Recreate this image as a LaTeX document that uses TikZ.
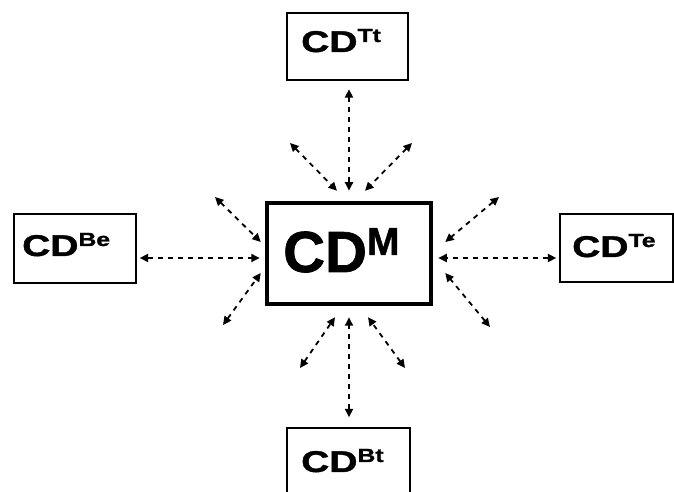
\documentclass[tikz,border=0pt]{standalone}
\usepackage{fontspec}
\usepackage{graphicx}
\setmainfont{Liberation Sans}
\newfontfamily\heavy{Liberation Sans}[BoldFeatures={FakeBold=1.2}]
\usetikzlibrary{arrows.meta}

% small box caption: wide heavy "CD" with a raised suffix
\newcommand{\cdsmall}[1]{\scalebox{1.3}[1]{\heavy\fontsize{30}{30}\selectfont\bfseries CD\raisebox{10pt}{\fontsize{19}{19}\selectfont #1}}}

\tikzset{
  smallbox/.style={draw=black, line width=1.4pt, inner sep=0pt, fill=white},
  bigbox/.style={draw=black, line width=4.5pt, inner sep=0pt,
                 minimum width=164pt, minimum height=101pt},
  caption/.style={anchor=base west, inner sep=0pt, text=black},
  conn/.style={line width=1.8pt, dash pattern=on 5pt off 5pt,
               {Triangle[length=8.5pt,width=8pt]}-{Triangle[length=8.5pt,width=8pt]}},
}

\begin{document}
\begin{tikzpicture}[x=1pt, y=1pt]
  \useasboundingbox (0,0) rectangle (674,492);
  \clip (0,0) rectangle (674,492);

  % central box
  \node[bigbox] (M) at (349,238.5) {};
  \node[caption] (Mlbl) at (283,220)
    {\heavy\fontsize{58}{58}\selectfont\bfseries CD\raisebox{17pt}{\fontsize{39}{39}\selectfont M}};

  % surrounding boxes
  \node[smallbox, minimum width=121pt, minimum height=67pt] (Tt) at (347.5,445.5) {};
  \node[smallbox, minimum width=122pt, minimum height=69pt] (Be) at (75,243.5) {};
  \node[smallbox, minimum width=113pt, minimum height=68pt] (Te) at (616.5,244) {};
  \node[smallbox, minimum width=123pt, minimum height=69pt] (Bt) at (348.5,29.5) {};

  \node[caption] (Ttlbl) at (301,440) {\cdsmall{Tt}};
  \node[caption] (Belbl) at (22,236)  {\cdsmall{Be}};
  \node[caption] (Telbl) at (572,235) {\cdsmall{Te}};
  \node[caption] (Btlbl) at (301,20)  {\cdsmall{Bt}};

  % free ends of the diagonal links
  \coordinate (tlo) at (290,349);
  \coordinate (tro) at (412,349);
  \coordinate (luo) at (215,295);
  \coordinate (llo) at (223,167);
  \coordinate (ruo) at (499,295);
  \coordinate (rlo) at (490,165);
  \coordinate (blo) at (300,124);
  \coordinate (bro) at (405,124);

  % links to the four boxes
  \draw[conn] ([shift={(1.5,-8.5)}]Tt.south) -- ([yshift=10]M.north);
  \draw[conn] ([shift={(3,-9.5)}]Be.east) -- ([shift={(-5,-4.5)}]M.west);
  \draw[conn] ([shift={(-3,-10)}]Te.west) -- ([shift={(5,-4.5)}]M.east);
  \draw[conn] ([shift={(0.5,10)}]Bt.north) -- ([yshift=-11]M.south);

  % open-ended links
  \draw[conn] (tlo) -- ([shift={(-12,10)}]M.north);
  \draw[conn] (tro) -- ([shift={(16,10)}]M.north);
  \draw[conn] (luo) -- ([shift={(-4,11.5)}]M.west);
  \draw[conn] (llo) -- ([shift={(-4,-19.5)}]M.west);
  \draw[conn] (ruo) -- ([shift={(12,11.5)}]M.east);
  \draw[conn] (rlo) -- ([shift={(12,-19.5)}]M.east);
  \draw[conn] (blo) -- ([shift={(-14,-11)}]M.south);
  \draw[conn] (bro) -- ([shift={(19,-11)}]M.south);
\end{tikzpicture}
\end{document}
